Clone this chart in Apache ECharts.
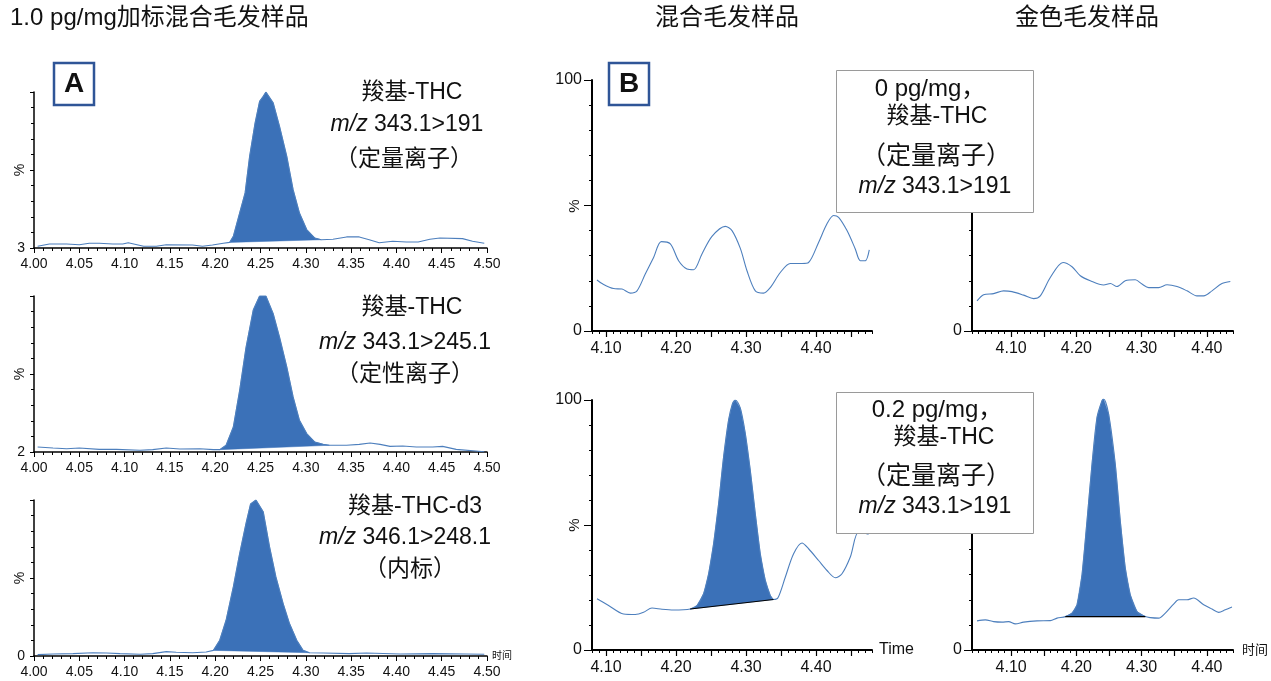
<!DOCTYPE html>
<html><head><meta charset="utf-8">
<script src="https://cdn.jsdelivr.net/npm/echarts@6/dist/echarts.min.js"></script>
<style>html,body{margin:0;padding:0;background:#fff}#c{width:1271px;height:681px}</style>
</head><body><div id="c"></div><script>
// ---------- data ----------
const a1Trace = [[4.004,1.1],[4.017,2.6],[4.036,2.6],[4.050,2.1],[4.061,3.0],[4.072,3.0],[4.087,2.6],[4.098,2.6],[4.104,3.4],[4.121,1.1],[4.135,1.1],[4.146,2.1],[4.175,1.9],[4.186,1.1],[4.197,1.9],[4.209,3.0],
 [4.216,3.6],[4.220,7.5],[4.225,18.2],[4.233,35.3],[4.238,58.8],[4.244,80.1],[4.249,94.0],[4.253,97.2],[4.256,100],[4.264,93.0],[4.271,78.0],[4.279,58.8],[4.286,37.4],[4.293,22.4],[4.301,11.8],[4.310,6.4],[4.317,5.3],
 [4.330,5.6],[4.345,7.1],[4.359,7.1],[4.370,5.3],[4.381,3.4],[4.396,4.3],[4.411,3.8],[4.424,3.8],[4.437,5.6],[4.448,6.4],[4.473,6.0],[4.484,4.3],[4.497,3.0]];
const a1Peak = [4.216, 4.317];

const a2Trace = [[4.004,3.2],[4.021,2.6],[4.036,2.1],[4.050,2.6],[4.072,1.7],[4.091,1.7],[4.117,1.1],[4.131,1.5],[4.146,2.6],[4.161,1.9],[4.183,2.1],[4.198,1.5],
 [4.205,1.5],[4.212,4.3],[4.220,16.0],[4.227,39.5],[4.234,67.0],[4.242,91.0],[4.249,100],[4.256,100],[4.264,88.7],[4.271,73.7],[4.279,54.5],[4.286,35.3],[4.293,20.3],[4.301,11.8],[4.310,6.4],[4.319,4.9],[4.326,4.3],
 [4.345,4.3],[4.359,4.9],[4.371,5.8],[4.382,4.9],[4.393,3.6],[4.407,3.8],[4.422,3.2],[4.440,3.2],[4.451,3.6],[4.466,1.7],[4.497,0.2]];
const a2Peak = [4.205, 4.326];

const a3Trace = [[4.004,0.9],[4.021,1.3],[4.043,1.5],[4.065,2.1],[4.080,1.9],[4.095,1.5],[4.117,1.1],[4.131,1.5],[4.146,2.8],[4.157,2.4],[4.175,2.1],[4.190,2.6],
 [4.198,3.6],[4.205,10.1],[4.212,22.9],[4.220,44.3],[4.227,65.7],[4.234,85.0],[4.239,97.4],[4.245,100],[4.253,92.5],[4.260,70.0],[4.267,50.7],[4.275,33.6],[4.282,20.8],[4.290,10.1],[4.297,3.6],[4.304,2.1],
 [4.319,1.9],[4.348,1.5],[4.367,1.9],[4.404,1.3],[4.440,1.5],[4.477,1.3],[4.497,1.1]];
const a3Peak = [4.198, 4.304];

const b1Trace = [[4.0871,20.3],[4.0943,18.9],[4.1109,16.9],[4.1229,16.7],[4.1347,15.1],[4.1443,16.0],[4.1561,22.7],[4.1680,29.3],[4.1790,35.6],[4.1919,34.7],[4.2037,28.0],[4.2157,24.7],[4.2251,24.4],[4.2371,30.7],[4.2514,37.7],[4.2704,41.7],[4.2800,40.0],[4.2919,32.9],[4.3014,24.0],[4.3133,16.0],[4.3251,15.1],[4.3347,17.3],[4.3490,23.3],[4.3633,26.9],[4.3800,26.9],[4.3894,27.3],[4.4037,35.3],[4.4157,42.7],[4.4251,46.0],[4.4323,45.3],[4.4443,40.0],[4.4561,32.7],[4.4633,28.0],[4.4704,28.0],[4.4761,32.3]];

const b2Trace = [[4.0477,12.0],[4.0578,14.4],[4.0731,14.9],[4.0884,16.0],[4.1013,15.7],[4.1191,14.3],[4.1344,12.9],[4.1447,14.0],[4.1600,21.3],[4.1795,27.3],[4.1933,25.6],[4.2060,22.0],[4.2213,20.0],[4.2417,18.3],[4.2520,18.9],[4.2622,17.7],[4.2749,20.0],[4.2903,20.4],[4.3005,18.7],[4.3107,17.3],[4.3260,17.3],[4.3389,18.4],[4.3542,17.7],[4.3695,16.0],[4.3848,14.0],[4.3951,14.0],[4.4078,16.0],[4.4231,18.9],[4.4359,19.7]];

const b3Trace = [[4.0871,20.5],[4.1037,17.8],[4.1251,14.4],[4.1419,14.2],[4.1537,15.1],[4.1657,16.8],[4.1800,16.3],[4.1966,16.0],
 [4.2204,16.4],[4.2300,17.8],[4.2394,22.5],[4.2466,30.5],[4.2537,42.5],[4.2609,58.6],[4.2680,77.3],[4.2751,92.0],[4.2809,98.7],[4.2847,100],[4.2919,96.7],[4.2990,86.6],[4.3061,71.9],[4.3133,54.5],[4.3204,38.5],[4.3276,27.8],[4.3347,21.8],[4.3394,20.2],
 [4.3457,20.9],[4.3561,29.1],[4.3680,38.5],[4.3800,42.8],[4.3894,40.5],[4.4037,35.8],[4.4157,31.8],[4.4276,28.9],[4.4371,30.5],[4.4490,37.2],[4.4609,47.2],[4.4751,46.3]];
const b3Peak = [4.2204, 4.3394];

const b4Trace = [[4.0477,11.6],[4.0604,12.0],[4.0731,11.3],[4.0860,11.1],[4.0961,11.3],[4.1064,10.4],[4.1191,11.1],[4.1396,11.6],[4.1600,11.7],[4.1703,12.7],
 [4.1830,13.3],[4.1933,14.7],[4.2009,18.0],[4.2086,30.0],[4.2162,51.3],[4.2239,74.0],[4.2316,92.7],[4.2392,99.3],[4.2417,100],[4.2494,94.0],[4.2596,74.0],[4.2673,51.3],[4.2749,32.7],[4.2826,22.0],[4.2929,15.3],[4.3056,13.3],
 [4.3133,12.9],[4.3260,12.7],[4.3363,14.7],[4.3490,18.3],[4.3567,20.0],[4.3695,20.0],[4.3796,20.7],[4.3951,18.0],[4.4078,16.3],[4.4180,15.0],[4.4282,16.0],[4.4384,17.1]];
const b4Peak = [4.1830, 4.3056];

const aYBaseLabels = ['3', '2', '0'];
const bXMajorTicks = [4.10,4.15,4.20,4.25,4.30,4.35,4.40,4.45];
const bXLabels = [4.10,4.20,4.30,4.40];
const bYLabels = [0, 100];

// ---------- build ----------
const FONT = "'Liberation Sans','Noto Sans CJK SC',sans-serif";
const LINE_C = '#4d7fbd', FILL_C = '#3b71b8';
const grids = [], xAxes = [], yAxes = [], series = [];

function peakPts(trace, pk){ return trace.filter(p => p[0] >= pk[0] - 1e-9 && p[0] <= pk[1] + 1e-9); }

function addPanel(o){
  const gi = grids.length;
  grids.push({left:o.left, top:o.top, width:o.width, height:o.height, containLabel:false});
  const xa = {type:'value', gridIndex:gi, min:o.xmin, max:o.xmax,
    axisLine:{show:true, onZero:false, lineStyle:{color:'#000', width:o.axisW}},
    splitLine:{show:false},
    axisLabel:{color:'#111', fontSize:o.xFont, fontFamily:FONT, margin:o.xMargin, formatter:v=>v.toFixed(2)},
    name:o.xName || '', nameLocation:'end', nameGap:o.xNameGap || 6,
    nameTextStyle:{color:'#111', fontSize:o.xNameSize || 12, fontFamily:FONT, verticalAlign:'middle'}};
  if (o.kind === 'A') {
    xa.interval = 0.05;
    xa.axisTick = {show:true, length:5, lineStyle:{color:'#000', width:1}};
    xa.minorTick = {show:true, splitNumber:5, length:3, lineStyle:{color:'#000', width:1}};
  } else {
    xa.axisTick = {show:true, length:6, customValues:bXMajorTicks, lineStyle:{color:'#000', width:1.2}};
    xa.axisLabel.customValues = bXLabels;
  }
  xAxes.push(xa);
  yAxes.push({type:'value', gridIndex:gi, min:0, max:100, interval:50,
    axisLine:{show:true, lineStyle:{color:'#000', width:o.axisW}},
    splitLine:{show:false},
    axisTick:{show:true, length:o.kind==='A'?4:8, lineStyle:{color:'#000', width:1}},
    minorTick:{show:true, splitNumber:5, length:3, lineStyle:{color:'#000', width:1}},
    axisLabel:{color:'#111', fontSize:o.yFont, fontFamily:FONT, margin:o.yMargin,
      formatter:v => (o.kind==='A' ? (v===0 ? o.yBase : '') : ((v===0 || (v===100 && o.showTop)) ? String(v) : ''))}});
  if (o.kind === 'B') {
    // overlay grid for 0.01 minor ticks
    const mi = grids.length;
    grids.push({left:o.left, top:o.top, width:o.width, height:o.height});
    xAxes.push({type:'value', gridIndex:mi, min:o.xmin, max:o.xmax, interval:0.01,
      axisLine:{show:false}, axisLabel:{show:false}, splitLine:{show:false},
      axisTick:{show:true, length:3, lineStyle:{color:'#000', width:1}}});
    yAxes.push({type:'value', gridIndex:mi, min:0, max:100, show:false});
  }
  if (o.peak) {
    const pts = peakPts(o.trace, o.peak);
    series.push({type:'custom', xAxisIndex:gi, yAxisIndex:gi, coordinateSystem:'cartesian2d', silent:true, z:1,
      data:[pts[Math.floor(pts.length/2)]],
      renderItem:(params, api) => ({type:'polygon', shape:{points:pts.map(p => api.coord(p))}, style:{fill:FILL_C, stroke:FILL_C, lineWidth:0.5}})});
    if (o.baseLine) {
      series.push({type:'line', xAxisIndex:gi, yAxisIndex:gi, data:[pts[0], pts[pts.length-1]], symbol:'none', silent:true, z:4,
        lineStyle:{color:'#000', width:1.2}});
    }
  }
  series.push({type:'line', xAxisIndex:gi, yAxisIndex:gi, data:o.trace, symbol:'none', showSymbol:false, silent:true, z:3,
    smooth:o.kind==='B' ? 0.3 : false,
    lineStyle:{color:LINE_C, width:1.1}});
}

const aCommon = {kind:'A', left:34, width:453, height:156, xmin:4.00, xmax:4.50, axisW:1.5, xFont:14, xMargin:9, yFont:14, yMargin:9};
addPanel(Object.assign({}, aCommon, {top:92, trace:a1Trace, peak:a1Peak, yBase:aYBaseLabels[0]}));
addPanel(Object.assign({}, aCommon, {top:296, trace:a2Trace, peak:a2Peak, yBase:aYBaseLabels[1]}));
addPanel(Object.assign({}, aCommon, {top:500, trace:a3Trace, peak:a3Peak, yBase:aYBaseLabels[2], xName:'时间', xNameSize:10, xNameGap:5}));

const bCommon = {kind:'B', axisW:2, xFont:16, xMargin:10, yFont:16, yMargin:10};
addPanel(Object.assign({}, bCommon, {left:592, top:80, width:280, height:251, xmin:4.08, xmax:4.48, trace:b1Trace, showTop:true}));
addPanel(Object.assign({}, bCommon, {left:972, top:80, width:261, height:251, xmin:4.04, xmax:4.44, trace:b2Trace}));
addPanel(Object.assign({}, bCommon, {left:592, top:400, width:280, height:250, xmin:4.08, xmax:4.48, trace:b3Trace, peak:b3Peak, baseLine:true, showTop:true, xName:'Time', xNameSize:16, xNameGap:7}));
addPanel(Object.assign({}, bCommon, {left:972, top:399, width:261, height:251, xmin:4.04, xmax:4.44, trace:b4Trace, peak:b4Peak, baseLine:true, xName:'时间', xNameSize:13, xNameGap:9}));

// ---------- graphic text ----------
function txt(t, x, y, size, opts){
  opts = opts || {};
  return {type:'text', z:120, silent:true, x:x, y:y, rotation:opts.rotation||0, style:Object.assign({text:t, fill:'#111', fontSize:size, fontFamily:FONT,
    align:opts.align||'center', verticalAlign:'middle', textAlign:opts.align||'center', textVerticalAlign:'middle',
    fontWeight:opts.weight||'normal',
    rich:{i:{fontStyle:'italic', fontSize:size, fontFamily:FONT, fill:'#111'}}}, opts.style||{})};
}
const R = Math.PI / 2;
const graphics = [
  txt('1.0 pg/mg加标混合毛发样品', 10, 18, 24, {align:'left'}),
  txt('混合毛发样品', 727, 18, 24),
  txt('金色毛发样品', 1087, 18, 24),
  // % axis names
  txt('%', 20, 170, 14, {rotation:R}),
  txt('%', 20, 374, 14, {rotation:R}),
  txt('%', 20, 578, 14, {rotation:R}),
  txt('%', 575, 206, 15, {rotation:R}),
  txt('%', 575, 525, 15, {rotation:R}),
  // panel tags
  {type:'rect', z:110, shape:{x:54, y:63, width:40, height:42}, style:{fill:'#fff', stroke:'#2f5597', lineWidth:2.5}},
  txt('A', 74, 84, 28, {weight:'bold'}),
  {type:'rect', z:110, shape:{x:609, y:63, width:40, height:42}, style:{fill:'#fff', stroke:'#2f5597', lineWidth:2.5}},
  txt('B', 629, 84, 28, {weight:'bold'}),
  // A annotations
  txt('羧基-THC', 412, 93, 23),
  txt('{i|m/z} 343.1>191', 407, 125, 23),
  txt('（定量离子）', 404, 160, 23),
  txt('羧基-THC', 412, 308, 23),
  txt('{i|m/z} 343.1>245.1', 405, 343, 23),
  txt('（定性离子）', 405, 375, 23),
  txt('羧基-THC-d3', 415, 507, 23),
  txt('{i|m/z} 346.1>248.1', 405, 538, 23),
  txt('（内标）', 410, 570, 23),
  // B boxes
  {type:'rect', z:110, shape:{x:836.5, y:70.5, width:197, height:142}, style:{fill:'#fff', stroke:'#9a9a9a', lineWidth:1}},
  txt('0 pg/mg，', 930, 89, 24),
  txt('羧基-THC', 937, 117, 23),
  txt('（定量离子）', 936, 157, 25),
  txt('{i|m/z} 343.1>191', 935, 187, 23),
  {type:'rect', z:110, shape:{x:836.5, y:392.5, width:197, height:141}, style:{fill:'#fff', stroke:'#9a9a9a', lineWidth:1}},
  txt('0.2 pg/mg，', 937, 410, 24),
  txt('羧基-THC', 944, 438, 23),
  txt('（定量离子）', 936, 477, 25),
  txt('{i|m/z} 343.1>191', 935, 507, 23)
];

const chart = echarts.init(document.getElementById('c'), null, {renderer:'canvas'});
chart.setOption({
  animation:false,
  backgroundColor:'#fff',
  grid:grids, xAxis:xAxes, yAxis:yAxes, series:series,
  graphic:{elements:graphics}
});
</script></body></html>
